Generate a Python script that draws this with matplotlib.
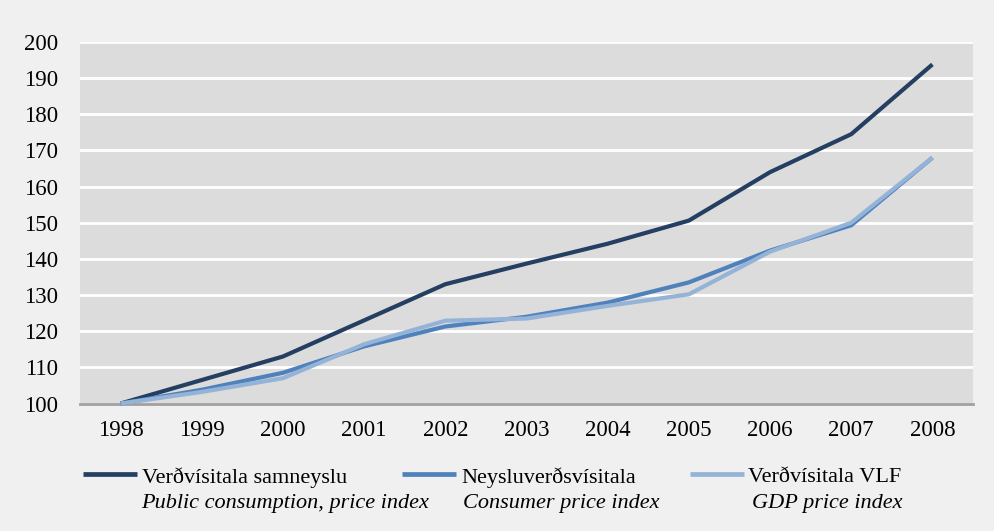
import matplotlib
matplotlib.use("Agg")
import matplotlib.pyplot as plt
from matplotlib.lines import Line2D

years = [1998, 1999, 2000, 2001, 2002, 2003, 2004, 2005, 2006, 2007, 2008]
public_consumption = [100, 106.5, 113.0, 123.0, 133.0, 138.7, 144.2, 150.6, 164.0, 174.5, 193.8]
consumer_price = [100, 103.8, 108.5, 115.8, 121.3, 124.0, 127.9, 133.5, 142.3, 149.3, 168.0]
gdp_price = [100, 103.2, 107.0, 116.4, 122.9, 123.5, 127.0, 130.2, 142.0, 150.0, 168.0]

series_names = ["Verðvísitala samneyslu", "Neysluverðsvísitala", "Verðvísitala VLF"]
series_en = ["Public consumption, price index", "Consumer price index", "GDP price index"]
colors = ["#243f62", "#4f81bd", "#95b3d7"]
yticks = [100, 110, 120, 130, 140, 150, 160, 170, 180, 190, 200]

W, H = 994, 531
fig = plt.figure(figsize=(W / 100, H / 100), dpi=100)
fig.patch.set_facecolor("#f0f0f0")
plt.rcParams["font.family"] = ["Liberation Serif", "DejaVu Serif"]

ax = fig.add_axes([80 / W, 1 - 403.5 / H, (973 - 80) / W, (403.5 - 42) / H])
ax.set_facecolor("#dcdcdc")
ax.set_xlim(1997.5, 2008.5)
ax.set_ylim(100, 200)
ax.set_yticks(yticks)
ax.set_xticks(years)
ax.set_xticklabels([str(y) for y in years])
ax.grid(axis="y", color="white", linewidth=2)
ax.set_axisbelow(True)
for s in ["top", "right", "left"]:
    ax.spines[s].set_visible(False)
ax.spines["bottom"].set_color("#a0a0a0")
ax.spines["bottom"].set_linewidth(2)
ax.spines["bottom"].set_zorder(1)
ax.tick_params(axis="both", length=0, labelsize=16.5, colors="black")
ax.tick_params(axis="y", pad=16)
ax.tick_params(axis="x", pad=12)

data = [public_consumption, consumer_price, gdp_price]
for vals, c in zip(data, colors):
    ax.plot(years, vals, color=c, linewidth=3, solid_capstyle="butt", zorder=3, clip_on=False)

# legend
hx = [83, 402, 690]
tx = [142, 461, 748]
ex = [141, 463, 752]
for i in range(3):
    fig.add_artist(Line2D([hx[i] / W, (hx[i] + 54) / W], [1 - 474.3 / H, 1 - 474.3 / H],
                          color=colors[i], linewidth=3.4, solid_capstyle="butt"))
    fig.text(tx[i] / W, 1 - 482.5 / H, series_names[i], fontsize=16, va="baseline", ha="left")
    fig.text(ex[i] / W, 1 - 508 / H, series_en[i], fontsize=16, va="baseline", ha="left",
             style="italic")

fig.savefig("out.png", dpi=100, facecolor=fig.get_facecolor())
